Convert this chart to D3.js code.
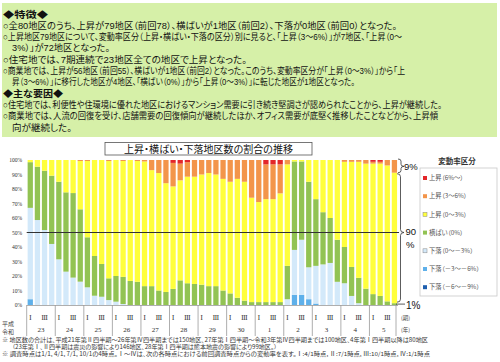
<!DOCTYPE html>
<html><head><meta charset="utf-8">
<script src="https://cdn.jsdelivr.net/npm/d3@7"></script>
<style>
body{margin:0;background:#fff;}
svg{display:block;font-family:"Noto Sans CJK JP",sans-serif;}
.jp{font-feature-settings:"palt";}
.panel{font-family:"Liberation Sans","Noto Sans CJK JP",sans-serif;font-feature-settings:"palt";}
.lat{font-family:"Liberation Sans",Arial,sans-serif;}
.serif{font-family:"Liberation Serif","DejaVu Serif",serif;}
</style></head><body>
<svg id="c" width="500" height="362"></svg>
<script>
// ---------- DATA ----------
const years = ["23","24","25","26","27","28","29","30","1","2","3","4","5"];
const quarters = ["Ⅰ","Ⅱ","Ⅲ","Ⅳ"];
const periods = years.flatMap(y => quarters.map(q => y + "-" + q));
const seriesNames = ["下落（－6～－9%）","下落（－3～－6%）","下落（0～－3%）","横ばい（0%）","上昇（0～3%）","上昇（3～6%）","上昇（6%～）"];
const seriesColors = ["#1f5fae","#5eb0ea","#d3e9fa","#92c353","#ffff3c","#f3954a","#e3262a"];
const legendOrder = [6,5,4,3,2,1,0];

// percentages (share of districts), 52 periods: H23 I ... R5 IV
const down69 = [0,0,0,0, 0,0,0,0, 0,0,0,0, 0,0,0,0, 0,0,0,0, 0,0,0,0, 0,0,0,0, 0,0,0,0, 0,0,0,0, 0,0,0,0, 0,0,0,0, 0,0,0,0, 0,0,0,0];
const down36 = [4,0,0,0, 0,0,0,0, 0,0,0,0, 0,0,0,0, 0,0,0,0, 0,0,0,0, 0,0,0,0, 0,0,0,0, 0,0,0,0, 0,7,7,4, 1,0,0,0, 0,0,0,0, 0,0,0,0];
const down03 = [63,58.6,51.7,42.1, 31.5,23,18.9,16.1, 12.2,6.4,5.7,3.4, 2.3,0.7,0,0, 0,0,0,0, 0,0,0,0, 0,0,0,0, 0,0,0,0, 0,0,0,0, 4,31,38,22, 26,28,29,16, 15,6.25,1.25,0, 0,0,0,0];
const flat   = [31.5,36.8,40.9,47.1, 53.5,54.7,58.3,49.9, 34.5,27.4,22.6,15, 17.7,18.7,16.6,16, 13,13,10,9, 11.1,17,15,14.5, 14,13,13,10, 8,5,3,2, 2,2,2,2, 23,61,54,59, 46,36,31,29, 25,20,17.5,11.25, 7.5,6.25,2.5,1.25];
const up03   = [1.5,4.6,7.4,10.8, 15,22.3,22.8,33.3, 52.6,66.2,71.7,80.9, 80,79.9,83.4,83.3, 86,80,81,75, 70.7,69,73.5,74, 76,78,77,77, 77,82,82,72, 69,71,71,75, 70,1,1,15, 27,36,40,55, 58.75,72.5,80,86.25, 90,91.25,93.75,90];
const up36   = [0,0,0,0, 0,0,0,0.7, 0.7,0,0,0.7, 0,0.7,0,0.7, 1,7,9,16, 16.2,11.5,10,11.5, 10,9,10,13, 15,13,15,26, 29,24,24,20, 3,0,0,0, 0,0,0,0, 1.25,1.25,1.25,2.5, 1.25,1.25,3.75,8.75];
const up6    = [0,0,0,0, 0,0,0,0, 0,0,0,0, 0,0,0,0, 0,0,0,0, 2,2.5,1.5,0, 0,0,0,0, 0,0,0,0, 0,3,3,3, 0,0,0,0, 0,0,0,0, 0,0,0,0, 1.25,1.25,0,0];
const yTicks = [0,10,20,30,40,50,60,70,80,90,100];

const textLines = [
  {t:"◆特徴◆", b:true, x:3, w:45},
  {t:"○全80地区のうち、上昇が79地区（前回78）、横ばいが1地区（前回2）、下落が0地区（前回0）となった。", x:3, w:394},
  {t:"○上昇地区79地区について、変動率区分（上昇・横ばい・下落の区分）別に見ると、「上昇（3～6%）」が7地区、「上昇（0～", x:3, w:399},
  {t:"3%）」が72地区となった。", x:12, w:98},
  {t:"○住宅地では、7期連続で23地区全ての地区で上昇となった。", x:3, w:244},
  {t:"○商業地では、上昇が56地区（前回55）、横ばいが1地区（前回2）となった。このうち、変動率区分が「上昇（0～3%）」から「上", x:3, w:402},
  {t:"昇（3～6%）」に移行した地区が4地区、「横ばい（0%）」から「上昇（0～3%）」に転じた地区が1地区となった。", x:12, w:343},
  {t:"◆主な要因◆", b:true, x:3, w:60},
  {t:"○住宅地では、利便性や住環境に優れた地区におけるマンション需要に引き続き堅調さが認められたことから、上昇が継続した。", x:3, w:439},
  {t:"○商業地では、人流の回復を受け、店舗需要の回復傾向が継続したほか、オフィス需要が底堅く推移したことなどから、上昇傾", x:3, w:435},
  {t:"向が継続した。", x:12, w:60}
];
const notes = [
  "※ 地区数の合計は、平成21年第Ⅱ四半期～26年第Ⅳ四半期までは150地区、27年第Ⅰ四半期～令和3年第Ⅳ四半期までは100地区、4年第Ⅰ四半期以降は80地区",
  "（23年第Ⅰ、Ⅱ四半期は震災の影響により146地区、28年第Ⅰ四半期は熊本地震の影響により99地区。）",
  "※ 調査時点は1/1, 4/1, 7/1, 10/1の4時点。Ⅰ～Ⅳは、次の各時点における前回調査時点からの変動率を表す。Ⅰ:4/1時点, Ⅱ:7/1時点, Ⅲ:10/1時点, Ⅳ:1/1時点"
];
const title = "上昇・横ばい・下落地区数の割合の推移";

// ---------- DRAW ----------
const svg = d3.select("#c");

// text panel
svg.append("rect").attr("x",2).attr("y",3).attr("width",495).attr("height",134).attr("fill","#d6f0a8");
textLines.forEach((l,i)=>{
  svg.append("text").attr("class","panel").attr("x",l.x).attr("y",17.5 + i*11.3)
    .attr("font-size",9).attr("font-weight",l.b?"bold":"normal").attr("fill","#111")
    .attr("textLength",l.w).attr("lengthAdjust","spacingAndGlyphs").text(l.t);
});

const x0 = 26.7, x1 = 398, yTop = 160, yBot = 305;
const keys = ["down69","down36","down03","flat","up03","up36","up6"];
const src = {down69,down36,down03,flat,up03,up36,up6};
const rows = periods.map((p,i)=>{ const r={period:p}; keys.forEach(k=>r[k]=src[k][i]); return r; });
const stacked = d3.stack().keys(keys)(rows);

const x = d3.scaleBand().domain(periods).range([x0,x1]).paddingInner(0.26).paddingOuter(0.13);
const y = d3.scaleLinear().domain([0,100]).range([yBot,yTop]);
const xYear = d3.scaleBand().domain(years).range([x0,x1]);

// title box
svg.append("rect").attr("x",105).attr("y",142.5).attr("width",207).attr("height",12.5)
  .attr("fill","#fff").attr("stroke","#555").attr("stroke-width",0.8);
svg.append("text").attr("class","jp").attr("x",208.5).attr("y",152.8).attr("text-anchor","middle")
  .attr("font-size",10).attr("fill","#111").text(title);

// bars
svg.append("g").selectAll("g").data(stacked).join("g")
  .attr("fill",(d,i)=>seriesColors[i])
  .selectAll("rect").data(d=>d).join("rect")
  .attr("x",d=>x(d.data.period)).attr("width",x.bandwidth())
  .attr("y",d=>y(d[1])).attr("height",d=>Math.max(0,y(d[0])-y(d[1])));

// y axis
const ya = svg.append("g").attr("transform",`translate(${x0},0)`)
  .call(d3.axisLeft(y).tickValues(yTicks).tickFormat(d=>d+"%").tickSize(0).tickPadding(4.5));
ya.select(".domain").remove();
ya.selectAll("text").attr("class","serif").attr("font-size",5.6).attr("fill","#333");

// 50% line
svg.append("line").attr("x1",x0).attr("x2",x1+1).attr("y1",y(50)).attr("y2",y(50))
  .attr("stroke","#333").attr("stroke-width",1);

// bottom axis and separators
svg.append("line").attr("x1",x0).attr("x2",x1).attr("y1",yBot+0.5).attr("y2",yBot+0.5).attr("stroke","#999").attr("stroke-width",0.8);
const seps = years.map(yy=>xYear(yy)).concat([x1-2]);
svg.append("g").selectAll("line").data(seps).join("line")
  .attr("x1",d=>d).attr("x2",d=>d).attr("y1",yBot).attr("y2",336)
  .attr("stroke","#999").attr("stroke-width",0.8);
// quarter labels I, III
svg.append("g").selectAll("text").data(periods.filter(p=>/-(Ⅰ|Ⅲ)$/.test(p))).join("text")
  .attr("class","serif").attr("x",d=>x(d)+x.bandwidth()/2).attr("y",319.5).attr("text-anchor","middle")
  .attr("font-size",7).attr("fill","#333").text(d=>d.split("-")[1]);
// year labels
svg.append("g").selectAll("text").data(years).join("text")
  .attr("class","serif").attr("x",d=>xYear(d)+xYear.bandwidth()/2).attr("y",332).attr("text-anchor","middle")
  .attr("font-size",7).attr("fill","#333").text(d=>d);
svg.append("text").attr("x",2).attr("y",325.5).attr("font-size",6).attr("fill","#444").text("平成");
svg.append("text").attr("x",2).attr("y",333.5).attr("font-size",6).attr("fill","#444").text("令和");
svg.append("text").attr("class","jp").attr("x",401).attr("y",319.5).attr("font-size",5.5).attr("fill","#444").text("(期)");
svg.append("text").attr("class","jp").attr("x",401).attr("y",332).attr("font-size",5.5).attr("fill","#444").text("(年)");

// notes
const noteY=[341.5,348.5,356], noteX=[2,12,2], noteW=[426,265,428];
notes.forEach((n,i)=>{
  svg.append("text").attr("class","jp").attr("x",noteX[i]).attr("y",noteY[i]).attr("font-size",5.6)
    .attr("textLength",noteW[i]).attr("lengthAdjust","spacingAndGlyphs").attr("fill","#333").text(n);
});

// legend
svg.append("text").attr("x",457).attr("y",164).attr("text-anchor","middle").attr("font-size",7.5)
  .attr("font-weight","bold").attr("fill","#333").text("変動率区分");
svg.append("rect").attr("x",420).attr("y",168).attr("width",77).attr("height",128)
  .attr("fill","#fff").attr("stroke","#c8c8c8").attr("stroke-width",0.8);
const lg = svg.append("g").selectAll("g").data(legendOrder).join("g")
  .attr("transform",(d,i)=>`translate(423,${178 + i*18.2})`);
lg.append("rect").attr("x",0).attr("y",-2).attr("width",4).attr("height",4)
  .attr("fill",d=>seriesColors[d]).attr("stroke",d=>(d===2||d===4)?"#888":"none").attr("stroke-width",0.5);
lg.append("text").attr("class","jp").attr("x",6).attr("y",2.2).attr("font-size",6.3).attr("fill","#555").text(d=>seriesNames[d]);

// braces and shares for latest period
function brace(xb, y0, y1, d, ym){
  const h=d/2, r=Math.min(3,(ym-y0)/3,(y1-ym)/3);
  return `M${xb},${y0} Q${xb+h},${y0} ${xb+h},${y0+r} L${xb+h},${ym-r} Q${xb+h},${ym} ${xb+d},${ym} `+
         `Q${xb+h},${ym} ${xb+h},${ym+r} L${xb+h},${y1-r} Q${xb+h},${y1} ${xb},${y1}`;
}
const last = rows[rows.length-1];
const yUp36Top = y(100), yUp36Bot = y(100-last.up36-last.up6);
svg.append("path").attr("d",brace(398,yUp36Top-1,yUp36Bot,6,(yUp36Top+yUp36Bot)/2))
  .attr("fill","none").attr("stroke","#333").attr("stroke-width",0.8);
svg.append("text").attr("class","lat").attr("x",404).attr("y",169.5).attr("font-size",9.5).attr("fill","#111")
  .text(Math.round(last.up36)+"%");
const y03Top = y(last.flat+last.up03)+1, y03Bot = y(last.flat)-1;
svg.append("path").attr("d",brace(397,y03Top,y03Bot,7,y(50)))
  .attr("fill","none").attr("stroke","#333").attr("stroke-width",0.8);
svg.append("text").attr("class","lat").attr("x",405.5).attr("y",235).attr("font-size",9.5).attr("fill","#111").text(Math.round(last.up03));
svg.append("text").attr("class","lat").attr("x",406).attr("y",247.5).attr("font-size",9.5).attr("fill","#111").text("%");
svg.append("line").attr("x1",396).attr("x2",405).attr("y1",y(last.flat/2)).attr("y2",y(last.flat/2))
  .attr("stroke","#333").attr("stroke-width",0.8);
svg.append("text").attr("class","lat").attr("x",406).attr("y",308.5).attr("font-size",10).attr("fill","#111").text(Math.round(last.flat)+"%");
</script>
</body></html>
